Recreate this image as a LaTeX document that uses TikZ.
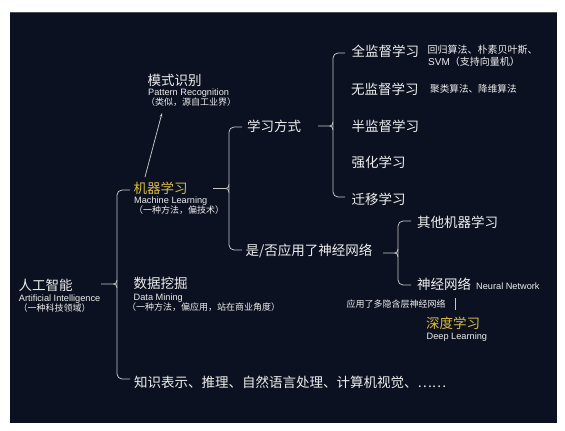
\documentclass[tikz,border=0pt]{standalone}
\usepackage{fontspec}
\setmainfont{Liberation Sans}
\newfontfamily\cjk{Noto Sans CJK SC}
\usetikzlibrary{arrows.meta}
\definecolor{bg}{HTML}{0C1121}
\definecolor{txt}{HTML}{EEEEEE}
\definecolor{ln}{HTML}{C8C8C8}
\definecolor{gold}{HTML}{D9BC3E}
\newcommand{\mybrace}[6]{%
  \draw[conn, rounded corners=5pt] (#6,#3) -- (#2,#3) -- (#2,#5) -- (#6,#5);
  \draw[conn] (#1,#4) -- (#2-3.5,#4) .. controls (#2-1.5,#4) and (#2,#4-1) .. (#2,#4-4);
  \draw[conn] (#2-3.5,#4) .. controls (#2-1.5,#4) and (#2,#4+1) .. (#2,#4+4);
}
\begin{document}
\begin{tikzpicture}[x=1pt,y=-1pt,
  every node/.style={inner sep=0pt, anchor=base west, text=txt},
  zhbig/.style={font=\cjk\fontsize{13.5}{16}\selectfont},
  zhmid/.style={font=\cjk\fontsize{10}{12}\selectfont},
  zhsmall/.style={font=\cjk\fontsize{9}{11}\selectfont},
  ensmall/.style={font=\fontsize{9.2}{11}\selectfont},
  hl/.style={text=gold},
  conn/.style={draw=ln, line width=0.75pt},
]
\useasboundingbox (0,0) rectangle (565,431);
\fill[white] (0,0) rectangle (565,431);
\fill[bg] (10,12) rectangle (557,423);
\draw[draw=gray!55!bg, line width=1pt] (10,12.5) -- (557,12.5);

% AI
\node[zhbig] (ai) at (18.5,290.8) {人工智能};
\node[ensmall] (aien) at (18.8,301) {Artificial Intelligence};
\node[zhsmall] (aizh) at (18.5,311.4) {（一种科技领域）};

% level 1
\node[zhbig,hl] (ml) at (133.5,193) {机器学习};
\node[ensmall] (mlen) at (134,203) {Machine Learning};
\node[zhsmall] (mlzh) at (134,213.4) {（一种方法，偏技术）};

\node[zhbig] (dm) at (133.5,288) {数据挖掘};
\node[ensmall] (dmen) at (133.5,300) {Data Mining};
\node[zhsmall] (dmzh) at (127,310.4) {（一种方法，偏应用，站在商业角度）};

\node[zhbig] (kr) at (134,387) {知识表示、推理、自然语言处理、计算机视觉、……};

% pattern recognition
\node[zhbig] (pr) at (147.5,85) {模式识别};
\node[ensmall] (pren) at (148,95.5) {Pattern Recognition};
\node[zhsmall] (przh) at (146,105.4) {（类似，源自工业界）};

% level 2
\node[zhbig] (lw) at (247,131) {学习方式};
\node[zhbig] (nnq) at (245.5,255.7) {是/否应用了神经网络};

% learning ways
\node[zhbig] (sup) at (351.5,56.7) {全监督学习};
\node[zhmid] (supa) at (427.5,53.8) {回归算法、朴素贝叶斯、};
\node[zhmid] (supb) at (428,65.8) {{\rmfamily SVM}（支持向量机）};
\node[zhbig] (uns) at (351,94) {无监督学习};
\node[font=\cjk\fontsize{9.6}{11}\selectfont] (unsa) at (430,92.3) {聚类算法、降维算法};
\node[zhbig] (semi) at (351.5,131) {半监督学习};
\node[zhbig] (rl) at (351.5,167.7) {强化学习};
\node[zhbig] (tl) at (351.5,204.3) {迁移学习};

% neural nets
\node[zhbig] (oml) at (417,227) {其他机器学习};
\node[zhbig] (nn) at (417,289) {神经网络};
\node[ensmall] (nnen) at (476,289) {Neural Network};
\node[zhsmall] (multi) at (346.5,307.7) {应用了多隐含层神经网络};
\node[zhbig,hl] (dl) at (426,328.3) {深度学习};
\node[ensmall] (dlen) at (426.5,339.7) {Deep Learning};

% braces
\mybrace{101}{117}{190}{284}{379}{130}
\mybrace{213}{229}{127}{188.5}{250}{242}
\mybrace{318}{333}{53}{126}{197}{345}
\mybrace{383}{398}{221}{253}{285}{411}

% arrow ML -> PR
\coordinate (arrS) at (145,177);
\coordinate (arrE) at (162,113);
\draw[conn, -{Stealth[length=4pt,width=2.6pt]}] (arrS) -- (arrE);

% small bar
\coordinate (barT) at (455,298);
\coordinate (barB) at (455,310);
\draw[conn] (barT) -- (barB);
\end{tikzpicture}
\end{document}
